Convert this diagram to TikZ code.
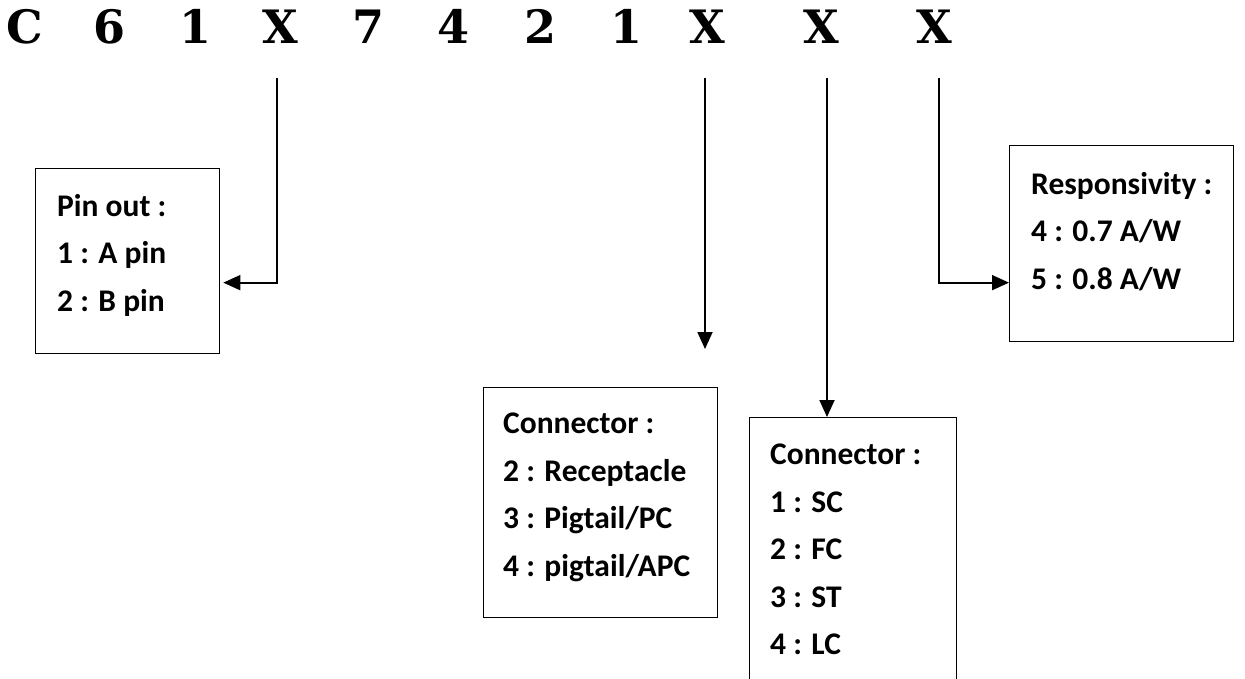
\documentclass[tikz,border=0pt]{standalone}
\usepackage{fontspec}
\newfontfamily\labelfont{Carlito}
\newfontfamily\codefont{DejaVu Serif}
\usepackage{tikz}
\usetikzlibrary{arrows.meta, calc}
\tikzset{
	tri/.tip={Triangle[length=17pt, width=15pt]},
	code/.style={font=\codefont\bfseries\fontsize{46}{50}\selectfont, anchor=base, inner sep=0pt},
	infobox/.style={draw, line width=1.3pt, anchor=north west, inner sep=0pt},
	infotext/.style={font=\labelfont\bfseries\fontsize{31.5}{47.5}\selectfont, align=left, anchor=north west, inner sep=0pt},
	pointer/.style={line width=1.8pt, -tri},
}

\begin{document}
\begin{tikzpicture}[x=1pt, y=-1pt]
	\path[use as bounding box] (0,0) rectangle (1245,679);
	\clip (0,0) rectangle (1245,679);
	
	% Part number
	\foreach \ch/\xx [count=\i] in {C/25, 6/110, 1/196, X/280, 7/368, 4/453, 2/540, 1/626, X/707, X/821, X/934}
		\node[code] (c\i) at (\xx,44) {\ch};
	
	% Boxes
	\node[infobox, minimum width=184pt, minimum height=185pt] (pinbox) at (35,168) {};
	\node[infobox, minimum width=234pt, minimum height=230pt] (conabox) at (483,387) {};
	\node[infobox, minimum width=207pt, minimum height=290pt] (conbbox) at (749,417) {};
	\node[infobox, minimum width=224pt, minimum height=196pt] (respbox) at (1009,145) {};
	
	\node[infotext] (pintext) at (57,194) {Pin out :\\1 : A pin\\2 : B pin};
	\node[infotext] (conatext) at (503,413) {Connector :\\2 : Receptacle\\3 : Pigtail/PC\\4 : pigtail/APC};
	\node[infotext] (conbtext) at (770,444) {Connector :\\1 : SC\\2 : FC\\3 : ST\\4 : LC};
	\node[infotext] (resptext) at (1031,172) {Responsivity :\\4 : 0.7 A/W\\5 : 0.8 A/W};
	
	% Pointers
	\coordinate (pinstart) at (277,78);
	\coordinate (conastart) at (705,78);
	\coordinate (conaend) at (705,349);
	\coordinate (conbstart) at (827,78);
	\coordinate (respstart) at (939,78);
	
	\draw[pointer, shorten >=3pt] (pinstart) |- ([yshift=-21.5pt]pinbox.east);
	\draw[pointer] (conastart) -- (conaend);
	\draw[pointer] (conbstart) -- (conbstart |- conbbox.north);
	\draw[pointer] (respstart) |- ([yshift=-39pt]respbox.west);
\end{tikzpicture}
\end{document}
